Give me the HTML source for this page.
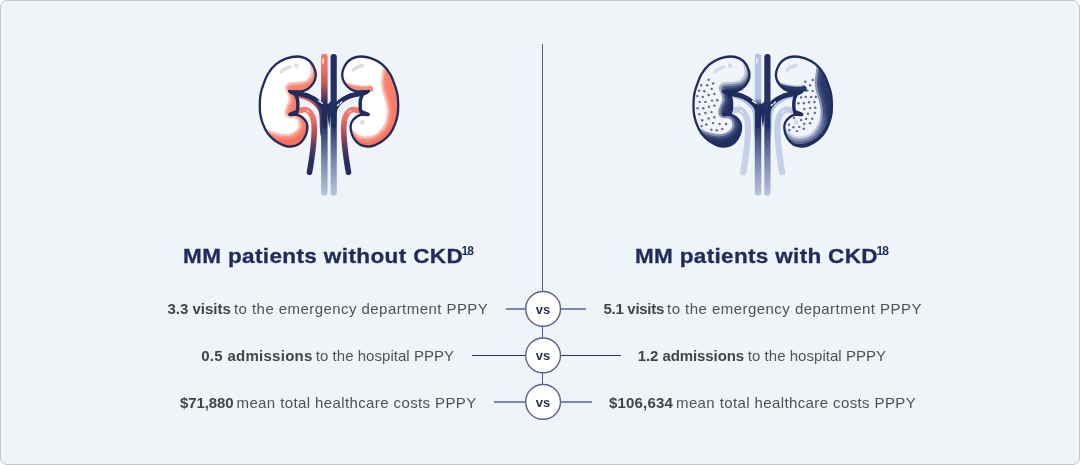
<!DOCTYPE html>
<html lang="en"><head><meta charset="utf-8"><title>MM patients with and without CKD</title>
<style>
html,body{margin:0;padding:0;background:#fff;}
body{width:1080px;height:465px;position:relative;overflow:hidden;font-family:"Liberation Sans",Arial,sans-serif;}
.card{position:absolute;left:0;top:0;width:1078px;height:463px;border:1px solid #c5c7cc;border-radius:7px;background:#eff4f9;}
.art{position:absolute;left:0;top:0;}
.vline{position:absolute;left:542px;top:44px;width:1px;height:360px;background:#505d86;}
.hl{position:absolute;height:1.6px;}
.vs{position:absolute;left:525px;width:36.2px;height:36.2px;
  color:#1f2b5b;font-weight:bold;font-size:13px;line-height:37.2px;text-align:center;letter-spacing:0.1px;}
.t{position:absolute;white-space:nowrap;font-size:15px;line-height:20px;margin-top:-9.5px;color:#515151;}
.t.b{font-weight:bold;color:#444444;}
.h{position:absolute;white-space:nowrap;font-weight:bold;font-size:20.5px;line-height:26px;color:#1f2b5b;top:243.2px;}
.h span{display:inline-block;transform:scaleX(1.1);transform-origin:0 50%;-webkit-text-stroke:0.3px #1f2b5b;}
.sp{position:absolute;top:244.4px;font-size:12px;line-height:14px;font-weight:bold;color:#1f2b5b;letter-spacing:-0.9px;}
</style></head>
<body>
<div class="card"></div>
<svg class="art" width="1080" height="465" viewBox="0 0 1080 465">
<g transform="translate(0,0)">
<defs>
<clipPath id="acl"><path d="M 289.50,91.00 C 290.42,91.07 293.02,91.35 295.00,91.40 C 296.98,91.45 299.28,91.70 301.40,91.30 C 303.52,90.90 305.77,90.27 307.70,89.00 C 309.63,87.73 311.68,85.63 313.00,83.70 C 314.32,81.77 315.22,79.50 315.60,77.40 C 315.98,75.30 315.92,73.38 315.30,71.10 C 314.68,68.82 313.52,65.82 311.90,63.70 C 310.28,61.58 308.05,59.60 305.60,58.40 C 303.15,57.20 300.37,56.50 297.20,56.50 C 294.03,56.50 290.12,57.12 286.60,58.40 C 283.08,59.68 279.25,61.57 276.10,64.20 C 272.95,66.83 270.07,70.07 267.70,74.20 C 265.33,78.33 263.13,85.30 261.90,89.00 C 260.67,92.70 260.65,93.73 260.30,96.40 C 259.95,99.07 259.80,102.02 259.80,105.00 C 259.80,107.98 259.78,111.17 260.30,114.30 C 260.82,117.43 261.67,120.63 262.90,123.80 C 264.13,126.97 265.68,130.48 267.70,133.30 C 269.72,136.12 272.37,138.68 275.00,140.70 C 277.63,142.72 280.87,144.43 283.50,145.40 C 286.13,146.37 288.35,146.67 290.80,146.50 C 293.25,146.33 296.00,145.72 298.20,144.40 C 300.40,143.08 302.50,140.98 304.00,138.60 C 305.50,136.22 306.75,132.73 307.20,130.10 C 307.65,127.47 307.50,124.90 306.70,122.80 C 305.90,120.70 303.98,118.82 302.40,117.50 C 300.82,116.18 299.30,115.40 297.20,114.90 C 295.10,114.40 291.03,114.57 289.80,114.50 C 290.67,114.35 293.75,114.27 295.00,113.60 C 296.25,112.93 296.83,112.10 297.30,110.50 C 297.77,108.90 297.85,106.00 297.80,104.00 C 297.75,102.00 297.47,100.08 297.00,98.50 C 296.53,96.92 296.25,95.75 295.00,94.50 C 293.75,93.25 290.42,91.58 289.50,91.00 Z"/></clipPath>
<clipPath id="acr"><path d="M 368.50,91.00 C 367.58,91.07 364.98,91.35 363.00,91.40 C 361.02,91.45 358.72,91.70 356.60,91.30 C 354.48,90.90 352.23,90.27 350.30,89.00 C 348.37,87.73 346.32,85.63 345.00,83.70 C 343.68,81.77 342.78,79.50 342.40,77.40 C 342.02,75.30 342.08,73.38 342.70,71.10 C 343.32,68.82 344.48,65.82 346.10,63.70 C 347.72,61.58 349.95,59.60 352.40,58.40 C 354.85,57.20 357.63,56.50 360.80,56.50 C 363.97,56.50 367.88,57.12 371.40,58.40 C 374.92,59.68 378.75,61.57 381.90,64.20 C 385.05,66.83 387.93,70.07 390.30,74.20 C 392.67,78.33 394.87,85.30 396.10,89.00 C 397.33,92.70 397.35,93.73 397.70,96.40 C 398.05,99.07 398.20,102.02 398.20,105.00 C 398.20,107.98 398.22,111.17 397.70,114.30 C 397.18,117.43 396.33,120.63 395.10,123.80 C 393.87,126.97 392.32,130.48 390.30,133.30 C 388.28,136.12 385.63,138.68 383.00,140.70 C 380.37,142.72 377.13,144.43 374.50,145.40 C 371.87,146.37 369.65,146.67 367.20,146.50 C 364.75,146.33 362.00,145.72 359.80,144.40 C 357.60,143.08 355.50,140.98 354.00,138.60 C 352.50,136.22 351.25,132.73 350.80,130.10 C 350.35,127.47 350.50,124.90 351.30,122.80 C 352.10,120.70 354.02,118.82 355.60,117.50 C 357.18,116.18 358.70,115.40 360.80,114.90 C 362.90,114.40 366.97,114.57 368.20,114.50 C 367.33,114.35 364.25,114.27 363.00,113.60 C 361.75,112.93 361.17,112.10 360.70,110.50 C 360.23,108.90 360.15,106.00 360.20,104.00 C 360.25,102.00 360.53,100.08 361.00,98.50 C 361.47,96.92 361.75,95.75 363.00,94.50 C 364.25,93.25 367.58,91.58 368.50,91.00 Z"/></clipPath>
<linearGradient id="aga" gradientUnits="userSpaceOnUse" x1="0" y1="54" x2="0" y2="196">
<stop offset="0" stop-color="#f47c6c"/><stop offset="0.1" stop-color="#ec7265"/><stop offset="0.2" stop-color="#c65a58"/><stop offset="0.29" stop-color="#6b3f5f"/><stop offset="0.35" stop-color="#222d5e"/><stop offset="0.55" stop-color="#344372"/><stop offset="0.75" stop-color="#7886ad"/><stop offset="1" stop-color="#b9c6df"/>
</linearGradient>
<linearGradient id="agv" gradientUnits="userSpaceOnUse" x1="0" y1="54" x2="0" y2="196">
<stop offset="0" stop-color="#202c5c"/><stop offset="0.45" stop-color="#263365"/><stop offset="0.55" stop-color="#344372"/><stop offset="0.75" stop-color="#7886ad"/><stop offset="1" stop-color="#b9c6df"/>
</linearGradient>
<linearGradient id="agu" gradientUnits="userSpaceOnUse" x1="0" y1="108" x2="0" y2="173">
<stop offset="0" stop-color="#f47c6c"/><stop offset="0.15" stop-color="#ec7265"/><stop offset="0.36" stop-color="#b25259"/><stop offset="0.6" stop-color="#5a3a60"/><stop offset="0.82" stop-color="#2a2f5e"/><stop offset="1" stop-color="#222c5c"/>
</linearGradient>
<linearGradient id="ags" gradientUnits="userSpaceOnUse" x1="0" y1="60" x2="0" y2="147">
<stop offset="0" stop-color="#f88674"/><stop offset="1" stop-color="#f4715e"/>
</linearGradient>

<linearGradient id="agal" gradientUnits="userSpaceOnUse" x1="296" y1="0" x2="322" y2="0">
<stop offset="0" stop-color="#f07868"/><stop offset="0.6" stop-color="#c65a58"/><stop offset="1" stop-color="#3a3060"/>
</linearGradient>
<linearGradient id="agar" gradientUnits="userSpaceOnUse" x1="362" y1="0" x2="336" y2="0">
<stop offset="0" stop-color="#f07868"/><stop offset="0.6" stop-color="#c65a58"/><stop offset="1" stop-color="#3a3060"/>
</linearGradient>
</defs>
<path d="M 299.50,110.60 C 300.52,110.43 303.77,109.20 305.60,109.60 C 307.43,110.00 309.20,111.35 310.50,113.00 C 311.80,114.65 312.77,117.00 313.40,119.50 C 314.03,122.00 314.23,124.58 314.30,128.00 C 314.37,131.42 314.08,136.00 313.80,140.00 C 313.52,144.00 313.08,148.00 312.60,152.00 C 312.12,156.00 311.42,160.62 310.90,164.00 C 310.38,167.38 309.73,170.92 309.50,172.30" fill="none" stroke="url(#agu)" stroke-width="5.6" stroke-linecap="round"/>
<path d="M 358.50,110.60 C 357.48,110.43 354.23,109.20 352.40,109.60 C 350.57,110.00 348.80,111.35 347.50,113.00 C 346.20,114.65 345.23,117.00 344.60,119.50 C 343.97,122.00 343.77,124.58 343.70,128.00 C 343.63,131.42 343.92,136.00 344.20,140.00 C 344.48,144.00 344.92,148.00 345.40,152.00 C 345.88,156.00 346.58,160.62 347.10,164.00 C 347.62,167.38 348.27,170.92 348.50,172.30" fill="none" stroke="url(#agu)" stroke-width="5.6" stroke-linecap="round"/>
<path d="M 307.2,110.6 L 309.4,112.4" stroke="#ffe3dd" stroke-width="1.1" stroke-linecap="round"/>
<path d="M 350.8,110.6 L 348.6,112.4" stroke="#ffe3dd" stroke-width="1.1" stroke-linecap="round"/>
<path d="M 294.00,95.20 C 295.00,95.37 297.67,95.60 300.00,96.20 C 302.33,96.80 305.23,97.37 308.00,98.80 C 310.77,100.23 314.50,102.77 316.60,104.80 C 318.70,106.83 319.77,108.80 320.60,111.00 C 321.43,113.20 321.40,115.33 321.60,118.00 C 321.80,120.67 321.63,124.17 321.80,127.00 C 321.97,129.83 322.15,132.50 322.60,135.00 C 323.05,137.50 324.18,140.83 324.50,142.00" fill="none" stroke="url(#agal)" stroke-width="4"/>
<path d="M 364.00,95.20 C 363.00,95.37 360.33,95.60 358.00,96.20 C 355.67,96.80 352.77,97.37 350.00,98.80 C 347.23,100.23 343.50,102.77 341.40,104.80 C 339.30,106.83 338.23,108.80 337.40,111.00 C 336.57,113.20 336.60,115.33 336.40,118.00 C 336.20,120.67 336.37,124.17 336.20,127.00 C 336.03,129.83 335.85,132.50 335.40,135.00 C 334.95,137.50 333.82,140.83 333.50,142.00" fill="none" stroke="url(#agar)" stroke-width="4" opacity="0"/>
<rect x="321.1" y="53.8" width="6.5" height="142" rx="3.25" fill="url(#aga)"/>
<rect x="330.6" y="54.1" width="6.2" height="141.7" rx="3.1" fill="url(#agv)"/>
<path d="M 323.1,58.8 V 63" stroke="#ffe3dd" stroke-width="1.7" stroke-linecap="round"/>
<path d="M 289.80,92.00 C 290.85,92.22 292.95,92.60 296.10,93.30 C 299.25,94.00 304.95,94.70 308.70,96.20 C 312.45,97.70 316.15,100.17 318.60,102.30 C 321.05,104.43 322.40,106.72 323.40,109.00 C 324.40,111.28 324.40,113.17 324.60,116.00 C 324.80,118.83 324.60,124.33 324.60,126.00" fill="none" stroke="#202c5c" stroke-width="5" stroke-linecap="round"/>
<path d="M 368.20,92.00 C 367.15,92.22 365.05,92.60 361.90,93.30 C 358.75,94.00 353.05,94.70 349.30,96.20 C 345.55,97.70 341.78,100.17 339.40,102.30 C 337.02,104.43 335.93,106.72 335.00,109.00 C 334.07,111.28 334.00,113.17 333.80,116.00 C 333.60,118.83 333.80,124.33 333.80,126.00" fill="none" stroke="#202c5c" stroke-width="5" stroke-linecap="round"/>
<path d="M 325,104 C 327.5,104.6 329.8,103.4 330.9,100.5 L 331.4,112 L 329.3,128 L 327,112 Z" fill="#202c5c"/>
<path d="M 318.8,100.9 L 322.3,103.3" stroke="#fff" stroke-width="1.3" stroke-linecap="round"/>
<path d="M 341.8,102 L 336.9,105.8" stroke="#fff" stroke-width="1.3" stroke-linecap="round" stroke-dasharray="2 1.6"/>
<path d="M 289.50,91.00 C 290.42,91.07 293.02,91.35 295.00,91.40 C 296.98,91.45 299.28,91.70 301.40,91.30 C 303.52,90.90 305.77,90.27 307.70,89.00 C 309.63,87.73 311.68,85.63 313.00,83.70 C 314.32,81.77 315.22,79.50 315.60,77.40 C 315.98,75.30 315.92,73.38 315.30,71.10 C 314.68,68.82 313.52,65.82 311.90,63.70 C 310.28,61.58 308.05,59.60 305.60,58.40 C 303.15,57.20 300.37,56.50 297.20,56.50 C 294.03,56.50 290.12,57.12 286.60,58.40 C 283.08,59.68 279.25,61.57 276.10,64.20 C 272.95,66.83 270.07,70.07 267.70,74.20 C 265.33,78.33 263.13,85.30 261.90,89.00 C 260.67,92.70 260.65,93.73 260.30,96.40 C 259.95,99.07 259.80,102.02 259.80,105.00 C 259.80,107.98 259.78,111.17 260.30,114.30 C 260.82,117.43 261.67,120.63 262.90,123.80 C 264.13,126.97 265.68,130.48 267.70,133.30 C 269.72,136.12 272.37,138.68 275.00,140.70 C 277.63,142.72 280.87,144.43 283.50,145.40 C 286.13,146.37 288.35,146.67 290.80,146.50 C 293.25,146.33 296.00,145.72 298.20,144.40 C 300.40,143.08 302.50,140.98 304.00,138.60 C 305.50,136.22 306.75,132.73 307.20,130.10 C 307.65,127.47 307.50,124.90 306.70,122.80 C 305.90,120.70 303.98,118.82 302.40,117.50 C 300.82,116.18 299.30,115.40 297.20,114.90 C 295.10,114.40 291.03,114.57 289.80,114.50 C 290.67,114.35 293.75,114.27 295.00,113.60 C 296.25,112.93 296.83,112.10 297.30,110.50 C 297.77,108.90 297.85,106.00 297.80,104.00 C 297.75,102.00 297.47,100.08 297.00,98.50 C 296.53,96.92 296.25,95.75 295.00,94.50 C 293.75,93.25 290.42,91.58 289.50,91.00 Z" fill="url(#ags)"/>
<g clip-path="url(#acl)">
<path d="M 309.30,63.00 C 309.55,64.17 310.68,67.92 310.80,70.00 C 310.92,72.08 310.80,73.83 310.00,75.50 C 309.20,77.17 308.00,78.95 306.00,80.00 C 304.00,81.05 300.67,81.42 298.00,81.80 C 295.33,82.18 292.00,81.77 290.00,82.30 C 288.00,82.83 286.83,83.97 286.00,85.00 C 285.17,86.03 284.92,87.25 285.00,88.50 C 285.08,89.75 285.95,91.17 286.50,92.50 C 287.05,93.83 287.97,95.08 288.30,96.50 C 288.63,97.92 288.88,99.33 288.50,101.00 C 288.12,102.67 286.65,104.67 286.00,106.50 C 285.35,108.33 284.67,110.42 284.60,112.00 C 284.53,113.58 284.73,114.97 285.60,116.00 C 286.47,117.03 288.23,117.80 289.80,118.20 C 291.37,118.60 293.63,117.85 295.00,118.40 C 296.37,118.95 297.45,120.07 298.00,121.50 C 298.55,122.93 298.80,125.42 298.30,127.00 C 297.80,128.58 296.38,129.92 295.00,131.00 C 293.62,132.08 292.00,133.00 290.00,133.50 C 288.00,134.00 285.50,134.20 283.00,134.00 C 280.50,133.80 277.83,133.20 275.00,132.30 C 272.17,131.40 268.83,129.98 266.00,128.60 C 263.17,127.22 259.33,124.77 258.00,124.00 L 250,124 L 250,45 L 309.3,45 Z" fill="#ffffff" stroke="#f7826f" stroke-width="12"/>
<path d="M 309.30,63.00 C 309.55,64.17 310.68,67.92 310.80,70.00 C 310.92,72.08 310.80,73.83 310.00,75.50 C 309.20,77.17 308.00,78.95 306.00,80.00 C 304.00,81.05 300.67,81.42 298.00,81.80 C 295.33,82.18 292.00,81.77 290.00,82.30 C 288.00,82.83 286.83,83.97 286.00,85.00 C 285.17,86.03 284.92,87.25 285.00,88.50 C 285.08,89.75 285.95,91.17 286.50,92.50 C 287.05,93.83 287.97,95.08 288.30,96.50 C 288.63,97.92 288.88,99.33 288.50,101.00 C 288.12,102.67 286.65,104.67 286.00,106.50 C 285.35,108.33 284.67,110.42 284.60,112.00 C 284.53,113.58 284.73,114.97 285.60,116.00 C 286.47,117.03 288.23,117.80 289.80,118.20 C 291.37,118.60 293.63,117.85 295.00,118.40 C 296.37,118.95 297.45,120.07 298.00,121.50 C 298.55,122.93 298.80,125.42 298.30,127.00 C 297.80,128.58 296.38,129.92 295.00,131.00 C 293.62,132.08 292.00,133.00 290.00,133.50 C 288.00,134.00 285.50,134.20 283.00,134.00 C 280.50,133.80 277.83,133.20 275.00,132.30 C 272.17,131.40 268.83,129.98 266.00,128.60 C 263.17,127.22 259.33,124.77 258.00,124.00 L 250,124 L 250,45 L 309.3,45 Z" fill="#ffffff" stroke="#f99383" stroke-width="8"/>
<path d="M 309.30,63.00 C 309.55,64.17 310.68,67.92 310.80,70.00 C 310.92,72.08 310.80,73.83 310.00,75.50 C 309.20,77.17 308.00,78.95 306.00,80.00 C 304.00,81.05 300.67,81.42 298.00,81.80 C 295.33,82.18 292.00,81.77 290.00,82.30 C 288.00,82.83 286.83,83.97 286.00,85.00 C 285.17,86.03 284.92,87.25 285.00,88.50 C 285.08,89.75 285.95,91.17 286.50,92.50 C 287.05,93.83 287.97,95.08 288.30,96.50 C 288.63,97.92 288.88,99.33 288.50,101.00 C 288.12,102.67 286.65,104.67 286.00,106.50 C 285.35,108.33 284.67,110.42 284.60,112.00 C 284.53,113.58 284.73,114.97 285.60,116.00 C 286.47,117.03 288.23,117.80 289.80,118.20 C 291.37,118.60 293.63,117.85 295.00,118.40 C 296.37,118.95 297.45,120.07 298.00,121.50 C 298.55,122.93 298.80,125.42 298.30,127.00 C 297.80,128.58 296.38,129.92 295.00,131.00 C 293.62,132.08 292.00,133.00 290.00,133.50 C 288.00,134.00 285.50,134.20 283.00,134.00 C 280.50,133.80 277.83,133.20 275.00,132.30 C 272.17,131.40 268.83,129.98 266.00,128.60 C 263.17,127.22 259.33,124.77 258.00,124.00 L 250,124 L 250,45 L 309.3,45 Z" fill="#ffffff" stroke="#fcc0b4" stroke-width="4.4"/>
<path d="M 309.30,63.00 C 309.55,64.17 310.68,67.92 310.80,70.00 C 310.92,72.08 310.80,73.83 310.00,75.50 C 309.20,77.17 308.00,78.95 306.00,80.00 C 304.00,81.05 300.67,81.42 298.00,81.80 C 295.33,82.18 292.00,81.77 290.00,82.30 C 288.00,82.83 286.83,83.97 286.00,85.00 C 285.17,86.03 284.92,87.25 285.00,88.50 C 285.08,89.75 285.95,91.17 286.50,92.50 C 287.05,93.83 287.97,95.08 288.30,96.50 C 288.63,97.92 288.88,99.33 288.50,101.00 C 288.12,102.67 286.65,104.67 286.00,106.50 C 285.35,108.33 284.67,110.42 284.60,112.00 C 284.53,113.58 284.73,114.97 285.60,116.00 C 286.47,117.03 288.23,117.80 289.80,118.20 C 291.37,118.60 293.63,117.85 295.00,118.40 C 296.37,118.95 297.45,120.07 298.00,121.50 C 298.55,122.93 298.80,125.42 298.30,127.00 C 297.80,128.58 296.38,129.92 295.00,131.00 C 293.62,132.08 292.00,133.00 290.00,133.50 C 288.00,134.00 285.50,134.20 283.00,134.00 C 280.50,133.80 277.83,133.20 275.00,132.30 C 272.17,131.40 268.83,129.98 266.00,128.60 C 263.17,127.22 259.33,124.77 258.00,124.00 L 250,124 L 250,45 L 309.3,45 Z" fill="#ffffff"/>

</g>
<path d="M 289.50,91.00 C 290.42,91.07 293.02,91.35 295.00,91.40 C 296.98,91.45 299.28,91.70 301.40,91.30 C 303.52,90.90 305.77,90.27 307.70,89.00 C 309.63,87.73 311.68,85.63 313.00,83.70 C 314.32,81.77 315.22,79.50 315.60,77.40 C 315.98,75.30 315.92,73.38 315.30,71.10 C 314.68,68.82 313.52,65.82 311.90,63.70 C 310.28,61.58 308.05,59.60 305.60,58.40 C 303.15,57.20 300.37,56.50 297.20,56.50 C 294.03,56.50 290.12,57.12 286.60,58.40 C 283.08,59.68 279.25,61.57 276.10,64.20 C 272.95,66.83 270.07,70.07 267.70,74.20 C 265.33,78.33 263.13,85.30 261.90,89.00 C 260.67,92.70 260.65,93.73 260.30,96.40 C 259.95,99.07 259.80,102.02 259.80,105.00 C 259.80,107.98 259.78,111.17 260.30,114.30 C 260.82,117.43 261.67,120.63 262.90,123.80 C 264.13,126.97 265.68,130.48 267.70,133.30 C 269.72,136.12 272.37,138.68 275.00,140.70 C 277.63,142.72 280.87,144.43 283.50,145.40 C 286.13,146.37 288.35,146.67 290.80,146.50 C 293.25,146.33 296.00,145.72 298.20,144.40 C 300.40,143.08 302.50,140.98 304.00,138.60 C 305.50,136.22 306.75,132.73 307.20,130.10 C 307.65,127.47 307.50,124.90 306.70,122.80 C 305.90,120.70 303.98,118.82 302.40,117.50 C 300.82,116.18 299.30,115.40 297.20,114.90 C 295.10,114.40 291.03,114.57 289.80,114.50 C 290.67,114.35 293.75,114.27 295.00,113.60 C 296.25,112.93 296.83,112.10 297.30,110.50 C 297.77,108.90 297.85,106.00 297.80,104.00 C 297.75,102.00 297.47,100.08 297.00,98.50 C 296.53,96.92 296.25,95.75 295.00,94.50 C 293.75,93.25 290.42,91.58 289.50,91.00 Z" fill="none" stroke="#202c5c" stroke-width="2.3" stroke-linejoin="round"/>
<path d="M 368.50,91.00 C 367.58,91.07 364.98,91.35 363.00,91.40 C 361.02,91.45 358.72,91.70 356.60,91.30 C 354.48,90.90 352.23,90.27 350.30,89.00 C 348.37,87.73 346.32,85.63 345.00,83.70 C 343.68,81.77 342.78,79.50 342.40,77.40 C 342.02,75.30 342.08,73.38 342.70,71.10 C 343.32,68.82 344.48,65.82 346.10,63.70 C 347.72,61.58 349.95,59.60 352.40,58.40 C 354.85,57.20 357.63,56.50 360.80,56.50 C 363.97,56.50 367.88,57.12 371.40,58.40 C 374.92,59.68 378.75,61.57 381.90,64.20 C 385.05,66.83 387.93,70.07 390.30,74.20 C 392.67,78.33 394.87,85.30 396.10,89.00 C 397.33,92.70 397.35,93.73 397.70,96.40 C 398.05,99.07 398.20,102.02 398.20,105.00 C 398.20,107.98 398.22,111.17 397.70,114.30 C 397.18,117.43 396.33,120.63 395.10,123.80 C 393.87,126.97 392.32,130.48 390.30,133.30 C 388.28,136.12 385.63,138.68 383.00,140.70 C 380.37,142.72 377.13,144.43 374.50,145.40 C 371.87,146.37 369.65,146.67 367.20,146.50 C 364.75,146.33 362.00,145.72 359.80,144.40 C 357.60,143.08 355.50,140.98 354.00,138.60 C 352.50,136.22 351.25,132.73 350.80,130.10 C 350.35,127.47 350.50,124.90 351.30,122.80 C 352.10,120.70 354.02,118.82 355.60,117.50 C 357.18,116.18 358.70,115.40 360.80,114.90 C 362.90,114.40 366.97,114.57 368.20,114.50 C 367.33,114.35 364.25,114.27 363.00,113.60 C 361.75,112.93 361.17,112.10 360.70,110.50 C 360.23,108.90 360.15,106.00 360.20,104.00 C 360.25,102.00 360.53,100.08 361.00,98.50 C 361.47,96.92 361.75,95.75 363.00,94.50 C 364.25,93.25 367.58,91.58 368.50,91.00 Z" fill="url(#ags)"/>
<g clip-path="url(#acr)">
<path d="M 383.20,64.00 C 383.08,64.92 382.78,67.43 382.50,69.50 C 382.22,71.57 381.75,74.03 381.50,76.40 C 381.25,78.77 380.83,81.07 381.00,83.70 C 381.17,86.33 381.88,89.65 382.50,92.20 C 383.12,94.75 384.03,96.53 384.70,99.00 C 385.37,101.47 386.15,104.50 386.50,107.00 C 386.85,109.50 387.10,111.25 386.80,114.00 C 386.50,116.75 386.12,120.52 384.70,123.50 C 383.28,126.48 380.77,129.80 378.30,131.90 C 375.83,134.00 372.88,135.48 369.90,136.10 C 366.92,136.72 363.22,136.65 360.40,135.60 C 357.58,134.55 355.07,131.73 353.00,129.80 C 350.93,127.87 348.83,124.97 348.00,124.00 L 338,124 L 338,45 L 383.2,45 Z" fill="#ffffff" stroke="#f7826f" stroke-width="12"/>
<path d="M 383.20,64.00 C 383.08,64.92 382.78,67.43 382.50,69.50 C 382.22,71.57 381.75,74.03 381.50,76.40 C 381.25,78.77 380.83,81.07 381.00,83.70 C 381.17,86.33 381.88,89.65 382.50,92.20 C 383.12,94.75 384.03,96.53 384.70,99.00 C 385.37,101.47 386.15,104.50 386.50,107.00 C 386.85,109.50 387.10,111.25 386.80,114.00 C 386.50,116.75 386.12,120.52 384.70,123.50 C 383.28,126.48 380.77,129.80 378.30,131.90 C 375.83,134.00 372.88,135.48 369.90,136.10 C 366.92,136.72 363.22,136.65 360.40,135.60 C 357.58,134.55 355.07,131.73 353.00,129.80 C 350.93,127.87 348.83,124.97 348.00,124.00 L 338,124 L 338,45 L 383.2,45 Z" fill="#ffffff" stroke="#f99383" stroke-width="8"/>
<path d="M 383.20,64.00 C 383.08,64.92 382.78,67.43 382.50,69.50 C 382.22,71.57 381.75,74.03 381.50,76.40 C 381.25,78.77 380.83,81.07 381.00,83.70 C 381.17,86.33 381.88,89.65 382.50,92.20 C 383.12,94.75 384.03,96.53 384.70,99.00 C 385.37,101.47 386.15,104.50 386.50,107.00 C 386.85,109.50 387.10,111.25 386.80,114.00 C 386.50,116.75 386.12,120.52 384.70,123.50 C 383.28,126.48 380.77,129.80 378.30,131.90 C 375.83,134.00 372.88,135.48 369.90,136.10 C 366.92,136.72 363.22,136.65 360.40,135.60 C 357.58,134.55 355.07,131.73 353.00,129.80 C 350.93,127.87 348.83,124.97 348.00,124.00 L 338,124 L 338,45 L 383.2,45 Z" fill="#ffffff" stroke="#fcc0b4" stroke-width="4.4"/>
<path d="M 383.20,64.00 C 383.08,64.92 382.78,67.43 382.50,69.50 C 382.22,71.57 381.75,74.03 381.50,76.40 C 381.25,78.77 380.83,81.07 381.00,83.70 C 381.17,86.33 381.88,89.65 382.50,92.20 C 383.12,94.75 384.03,96.53 384.70,99.00 C 385.37,101.47 386.15,104.50 386.50,107.00 C 386.85,109.50 387.10,111.25 386.80,114.00 C 386.50,116.75 386.12,120.52 384.70,123.50 C 383.28,126.48 380.77,129.80 378.30,131.90 C 375.83,134.00 372.88,135.48 369.90,136.10 C 366.92,136.72 363.22,136.65 360.40,135.60 C 357.58,134.55 355.07,131.73 353.00,129.80 C 350.93,127.87 348.83,124.97 348.00,124.00 L 338,124 L 338,45 L 383.2,45 Z" fill="#ffffff"/>
<path d="M 341,76 L 346.3,83 C 353.5,86 364,86.8 369.5,85.6 C 371.5,85.4 372.5,86.5 373,88 L 373,91.6 L 341,91.6 Z" fill="#f58a78"/>
<path d="M 346.3,83 C 353.5,86 364,86.8 369.5,85.6" fill="none" stroke="#fcc3b8" stroke-width="1.4"/>

</g>
<path d="M 368.50,91.00 C 367.58,91.07 364.98,91.35 363.00,91.40 C 361.02,91.45 358.72,91.70 356.60,91.30 C 354.48,90.90 352.23,90.27 350.30,89.00 C 348.37,87.73 346.32,85.63 345.00,83.70 C 343.68,81.77 342.78,79.50 342.40,77.40 C 342.02,75.30 342.08,73.38 342.70,71.10 C 343.32,68.82 344.48,65.82 346.10,63.70 C 347.72,61.58 349.95,59.60 352.40,58.40 C 354.85,57.20 357.63,56.50 360.80,56.50 C 363.97,56.50 367.88,57.12 371.40,58.40 C 374.92,59.68 378.75,61.57 381.90,64.20 C 385.05,66.83 387.93,70.07 390.30,74.20 C 392.67,78.33 394.87,85.30 396.10,89.00 C 397.33,92.70 397.35,93.73 397.70,96.40 C 398.05,99.07 398.20,102.02 398.20,105.00 C 398.20,107.98 398.22,111.17 397.70,114.30 C 397.18,117.43 396.33,120.63 395.10,123.80 C 393.87,126.97 392.32,130.48 390.30,133.30 C 388.28,136.12 385.63,138.68 383.00,140.70 C 380.37,142.72 377.13,144.43 374.50,145.40 C 371.87,146.37 369.65,146.67 367.20,146.50 C 364.75,146.33 362.00,145.72 359.80,144.40 C 357.60,143.08 355.50,140.98 354.00,138.60 C 352.50,136.22 351.25,132.73 350.80,130.10 C 350.35,127.47 350.50,124.90 351.30,122.80 C 352.10,120.70 354.02,118.82 355.60,117.50 C 357.18,116.18 358.70,115.40 360.80,114.90 C 362.90,114.40 366.97,114.57 368.20,114.50 C 367.33,114.35 364.25,114.27 363.00,113.60 C 361.75,112.93 361.17,112.10 360.70,110.50 C 360.23,108.90 360.15,106.00 360.20,104.00 C 360.25,102.00 360.53,100.08 361.00,98.50 C 361.47,96.92 361.75,95.75 363.00,94.50 C 364.25,93.25 367.58,91.58 368.50,91.00 Z" fill="none" stroke="#202c5c" stroke-width="2.3" stroke-linejoin="round"/>
<path d="M 290.50,114.60 C 291.32,114.47 294.25,114.48 295.40,113.80 C 296.55,113.12 296.98,112.13 297.40,110.50 C 297.82,108.87 297.93,106.00 297.90,104.00 C 297.87,102.00 297.58,100.00 297.20,98.50 C 296.82,97.00 295.87,95.58 295.60,95.00" fill="none" stroke="#202c5c" stroke-width="3.4" stroke-linecap="round"/>
<path d="M 367.50,114.60 C 366.68,114.47 363.75,114.48 362.60,113.80 C 361.45,113.12 361.02,112.13 360.60,110.50 C 360.18,108.87 360.07,106.00 360.10,104.00 C 360.13,102.00 360.42,100.00 360.80,98.50 C 361.18,97.00 362.13,95.58 362.40,95.00" fill="none" stroke="#202c5c" stroke-width="3.4" stroke-linecap="round"/>
<path d="M 288.9,113.4 C 291.5,111.8 294.5,111.6 297.4,110 L 298,115.4 C 295,115.2 292,115.6 288.9,115.6 Z" fill="#202c5c" stroke="#202c5c" stroke-width="1" stroke-linejoin="round"/>
<path d="M 369.10,113.4 C 366.50,111.8 363.50,111.6 360.60,110 L 360.00,115.4 C 363.00,115.2 366.00,115.6 369.10,115.6 Z" fill="#202c5c" stroke="#202c5c" stroke-width="1" stroke-linejoin="round"/>
<path d="M 288.7,90.3 C 291,91 294,91.2 297.5,91 L 299,95.5 C 295,95.6 291.5,94.4 288.7,92.2 Z" fill="#202c5c" stroke="#202c5c" stroke-width="1" stroke-linejoin="round"/>
<path d="M 369.30,90.3 C 367.00,91 364.00,91.2 360.50,91 L 359.00,95.5 C 363.00,95.6 366.50,94.4 369.30,92.2 Z" fill="#202c5c" stroke="#202c5c" stroke-width="1" stroke-linejoin="round"/>
<path d="M 281.2,72 C 283.6,69.4 286.6,67.6 290.2,66.9" fill="none" stroke="#dedede" stroke-width="3.3" stroke-linecap="round"/>
<circle cx="296.3" cy="65.6" r="2.2" fill="#dedede"/>
<path d="M 353.4,69.9 C 355.6,67.6 358.6,66 362.2,65.4" fill="none" stroke="#dedede" stroke-width="3.5" stroke-linecap="round"/>
<circle cx="362.3" cy="122.4" r="2.4" fill="#dedede"/>
</g>
<g transform="translate(433.7,0)">
<defs>
<clipPath id="bcl"><path d="M 289.50,91.00 C 290.42,91.07 293.02,91.35 295.00,91.40 C 296.98,91.45 299.28,91.70 301.40,91.30 C 303.52,90.90 305.77,90.27 307.70,89.00 C 309.63,87.73 311.68,85.63 313.00,83.70 C 314.32,81.77 315.22,79.50 315.60,77.40 C 315.98,75.30 315.92,73.38 315.30,71.10 C 314.68,68.82 313.52,65.82 311.90,63.70 C 310.28,61.58 308.05,59.60 305.60,58.40 C 303.15,57.20 300.37,56.50 297.20,56.50 C 294.03,56.50 290.12,57.12 286.60,58.40 C 283.08,59.68 279.25,61.57 276.10,64.20 C 272.95,66.83 270.07,70.07 267.70,74.20 C 265.33,78.33 263.13,85.30 261.90,89.00 C 260.67,92.70 260.65,93.73 260.30,96.40 C 259.95,99.07 259.80,102.02 259.80,105.00 C 259.80,107.98 259.78,111.17 260.30,114.30 C 260.82,117.43 261.67,120.63 262.90,123.80 C 264.13,126.97 265.68,130.48 267.70,133.30 C 269.72,136.12 272.37,138.68 275.00,140.70 C 277.63,142.72 280.87,144.43 283.50,145.40 C 286.13,146.37 288.35,146.67 290.80,146.50 C 293.25,146.33 296.00,145.72 298.20,144.40 C 300.40,143.08 302.50,140.98 304.00,138.60 C 305.50,136.22 306.75,132.73 307.20,130.10 C 307.65,127.47 307.50,124.90 306.70,122.80 C 305.90,120.70 303.98,118.82 302.40,117.50 C 300.82,116.18 299.30,115.40 297.20,114.90 C 295.10,114.40 291.03,114.57 289.80,114.50 C 290.67,114.35 293.75,114.27 295.00,113.60 C 296.25,112.93 296.83,112.10 297.30,110.50 C 297.77,108.90 297.85,106.00 297.80,104.00 C 297.75,102.00 297.47,100.08 297.00,98.50 C 296.53,96.92 296.25,95.75 295.00,94.50 C 293.75,93.25 290.42,91.58 289.50,91.00 Z"/></clipPath>
<clipPath id="bcr"><path d="M 368.50,91.00 C 367.58,91.07 364.98,91.35 363.00,91.40 C 361.02,91.45 358.72,91.70 356.60,91.30 C 354.48,90.90 352.23,90.27 350.30,89.00 C 348.37,87.73 346.32,85.63 345.00,83.70 C 343.68,81.77 342.78,79.50 342.40,77.40 C 342.02,75.30 342.08,73.38 342.70,71.10 C 343.32,68.82 344.48,65.82 346.10,63.70 C 347.72,61.58 349.95,59.60 352.40,58.40 C 354.85,57.20 357.63,56.50 360.80,56.50 C 363.97,56.50 367.88,57.12 371.40,58.40 C 374.92,59.68 378.75,61.57 381.90,64.20 C 385.05,66.83 387.93,70.07 390.30,74.20 C 392.67,78.33 394.87,85.30 396.10,89.00 C 397.33,92.70 397.35,93.73 397.70,96.40 C 398.05,99.07 398.20,102.02 398.20,105.00 C 398.20,107.98 398.22,111.17 397.70,114.30 C 397.18,117.43 396.33,120.63 395.10,123.80 C 393.87,126.97 392.32,130.48 390.30,133.30 C 388.28,136.12 385.63,138.68 383.00,140.70 C 380.37,142.72 377.13,144.43 374.50,145.40 C 371.87,146.37 369.65,146.67 367.20,146.50 C 364.75,146.33 362.00,145.72 359.80,144.40 C 357.60,143.08 355.50,140.98 354.00,138.60 C 352.50,136.22 351.25,132.73 350.80,130.10 C 350.35,127.47 350.50,124.90 351.30,122.80 C 352.10,120.70 354.02,118.82 355.60,117.50 C 357.18,116.18 358.70,115.40 360.80,114.90 C 362.90,114.40 366.97,114.57 368.20,114.50 C 367.33,114.35 364.25,114.27 363.00,113.60 C 361.75,112.93 361.17,112.10 360.70,110.50 C 360.23,108.90 360.15,106.00 360.20,104.00 C 360.25,102.00 360.53,100.08 361.00,98.50 C 361.47,96.92 361.75,95.75 363.00,94.50 C 364.25,93.25 367.58,91.58 368.50,91.00 Z"/></clipPath>
<linearGradient id="bga" gradientUnits="userSpaceOnUse" x1="0" y1="54" x2="0" y2="196">
<stop offset="0" stop-color="#b3c2df"/><stop offset="0.31" stop-color="#b3c2df"/><stop offset="0.37" stop-color="#222d5e"/><stop offset="0.55" stop-color="#344372"/><stop offset="0.75" stop-color="#7886ad"/><stop offset="1" stop-color="#b9c6df"/>
</linearGradient>
<linearGradient id="bgv" gradientUnits="userSpaceOnUse" x1="0" y1="54" x2="0" y2="196">
<stop offset="0" stop-color="#202c5c"/><stop offset="0.45" stop-color="#263365"/><stop offset="0.55" stop-color="#344372"/><stop offset="0.75" stop-color="#7886ad"/><stop offset="1" stop-color="#b9c6df"/>
</linearGradient>
<linearGradient id="bgu" gradientUnits="userSpaceOnUse" x1="0" y1="108" x2="0" y2="173">
<stop offset="0" stop-color="#c2cee6"/><stop offset="1" stop-color="#c6d2e8"/>
</linearGradient>
<linearGradient id="bgs" gradientUnits="userSpaceOnUse" x1="0" y1="60" x2="0" y2="147">
<stop offset="0" stop-color="#2c396b"/><stop offset="1" stop-color="#222f62"/>
</linearGradient>
<linearGradient id="bl3" gradientUnits="userSpaceOnUse" x1="0" y1="82" x2="0" y2="97"><stop offset="0" stop-color="#56628d"/><stop offset="1" stop-color="#2f3c6f"/></linearGradient>
<linearGradient id="bl2" gradientUnits="userSpaceOnUse" x1="0" y1="82" x2="0" y2="97"><stop offset="0" stop-color="#8c97b8"/><stop offset="1" stop-color="#46527f"/></linearGradient>
<linearGradient id="bl1" gradientUnits="userSpaceOnUse" x1="0" y1="82" x2="0" y2="97"><stop offset="0" stop-color="#bfc7db"/><stop offset="1" stop-color="#8590b3"/></linearGradient>
<linearGradient id="br3" gradientUnits="userSpaceOnUse" x1="0" y1="112" x2="0" y2="134"><stop offset="0" stop-color="#323f72"/><stop offset="1" stop-color="#5e6a94"/></linearGradient>
<linearGradient id="br2" gradientUnits="userSpaceOnUse" x1="0" y1="112" x2="0" y2="134"><stop offset="0" stop-color="#45517f"/><stop offset="1" stop-color="#8d98b8"/></linearGradient>
<linearGradient id="br1" gradientUnits="userSpaceOnUse" x1="0" y1="112" x2="0" y2="134"><stop offset="0" stop-color="#8c97b8"/><stop offset="1" stop-color="#c9d0e2"/></linearGradient>
<linearGradient id="bgal" gradientUnits="userSpaceOnUse" x1="296" y1="0" x2="322" y2="0">
<stop offset="0" stop-color="#b4c3e0"/><stop offset="1" stop-color="#b4c3e0"/>
</linearGradient>
<linearGradient id="bgar" gradientUnits="userSpaceOnUse" x1="362" y1="0" x2="336" y2="0">
<stop offset="0" stop-color="#b4c3e0"/><stop offset="1" stop-color="#b4c3e0"/>
</linearGradient>
</defs>
<path d="M 299.50,110.60 C 300.52,110.43 303.77,109.20 305.60,109.60 C 307.43,110.00 309.20,111.35 310.50,113.00 C 311.80,114.65 312.77,117.00 313.40,119.50 C 314.03,122.00 314.23,124.58 314.30,128.00 C 314.37,131.42 314.08,136.00 313.80,140.00 C 313.52,144.00 313.08,148.00 312.60,152.00 C 312.12,156.00 311.42,160.62 310.90,164.00 C 310.38,167.38 309.73,170.92 309.50,172.30" fill="none" stroke="url(#bgu)" stroke-width="6.2" stroke-linecap="round"/>
<path d="M 358.50,110.60 C 357.48,110.43 354.23,109.20 352.40,109.60 C 350.57,110.00 348.80,111.35 347.50,113.00 C 346.20,114.65 345.23,117.00 344.60,119.50 C 343.97,122.00 343.77,124.58 343.70,128.00 C 343.63,131.42 343.92,136.00 344.20,140.00 C 344.48,144.00 344.92,148.00 345.40,152.00 C 345.88,156.00 346.58,160.62 347.10,164.00 C 347.62,167.38 348.27,170.92 348.50,172.30" fill="none" stroke="url(#bgu)" stroke-width="6.2" stroke-linecap="round"/>
<path d="M 307.2,110.6 L 309.4,112.4" stroke="#eef3fb" stroke-width="1.1" stroke-linecap="round"/>
<path d="M 350.8,110.6 L 348.6,112.4" stroke="#eef3fb" stroke-width="1.1" stroke-linecap="round"/>
<path d="M 294.00,95.20 C 295.00,95.37 297.67,95.60 300.00,96.20 C 302.33,96.80 305.23,97.37 308.00,98.80 C 310.77,100.23 314.50,102.77 316.60,104.80 C 318.70,106.83 319.77,108.80 320.60,111.00 C 321.43,113.20 321.40,115.33 321.60,118.00 C 321.80,120.67 321.63,124.17 321.80,127.00 C 321.97,129.83 322.15,132.50 322.60,135.00 C 323.05,137.50 324.18,140.83 324.50,142.00" fill="none" stroke="url(#bgal)" stroke-width="4"/>
<path d="M 364.00,95.20 C 363.00,95.37 360.33,95.60 358.00,96.20 C 355.67,96.80 352.77,97.37 350.00,98.80 C 347.23,100.23 343.50,102.77 341.40,104.80 C 339.30,106.83 338.23,108.80 337.40,111.00 C 336.57,113.20 336.60,115.33 336.40,118.00 C 336.20,120.67 336.37,124.17 336.20,127.00 C 336.03,129.83 335.85,132.50 335.40,135.00 C 334.95,137.50 333.82,140.83 333.50,142.00" fill="none" stroke="url(#bgar)" stroke-width="4" opacity="1"/>
<rect x="321.1" y="53.8" width="6.5" height="142" rx="3.25" fill="url(#bga)"/>
<rect x="330.6" y="54.1" width="6.2" height="141.7" rx="3.1" fill="url(#bgv)"/>
<path d="M 323.1,58.8 V 63" stroke="#eef3fb" stroke-width="1.7" stroke-linecap="round"/>
<path d="M 289.80,92.00 C 290.85,92.22 292.95,92.60 296.10,93.30 C 299.25,94.00 304.95,94.70 308.70,96.20 C 312.45,97.70 316.15,100.17 318.60,102.30 C 321.05,104.43 322.40,106.72 323.40,109.00 C 324.40,111.28 324.40,113.17 324.60,116.00 C 324.80,118.83 324.60,124.33 324.60,126.00" fill="none" stroke="#1f2c5e" stroke-width="5" stroke-linecap="round"/>
<path d="M 368.20,92.00 C 367.15,92.22 365.05,92.60 361.90,93.30 C 358.75,94.00 353.05,94.70 349.30,96.20 C 345.55,97.70 341.78,100.17 339.40,102.30 C 337.02,104.43 335.93,106.72 335.00,109.00 C 334.07,111.28 334.00,113.17 333.80,116.00 C 333.60,118.83 333.80,124.33 333.80,126.00" fill="none" stroke="#1f2c5e" stroke-width="5" stroke-linecap="round"/>
<path d="M 325,104 C 327.5,104.6 329.8,103.4 330.9,100.5 L 331.4,112 L 329.3,128 L 327,112 Z" fill="#1f2c5e"/>
<path d="M 318.8,100.9 L 322.3,103.3" stroke="#fff" stroke-width="1.3" stroke-linecap="round"/>
<path d="M 341.8,102 L 336.9,105.8" stroke="#fff" stroke-width="1.3" stroke-linecap="round" stroke-dasharray="2 1.6"/>
<path d="M 289.50,91.00 C 290.42,91.07 293.02,91.35 295.00,91.40 C 296.98,91.45 299.28,91.70 301.40,91.30 C 303.52,90.90 305.77,90.27 307.70,89.00 C 309.63,87.73 311.68,85.63 313.00,83.70 C 314.32,81.77 315.22,79.50 315.60,77.40 C 315.98,75.30 315.92,73.38 315.30,71.10 C 314.68,68.82 313.52,65.82 311.90,63.70 C 310.28,61.58 308.05,59.60 305.60,58.40 C 303.15,57.20 300.37,56.50 297.20,56.50 C 294.03,56.50 290.12,57.12 286.60,58.40 C 283.08,59.68 279.25,61.57 276.10,64.20 C 272.95,66.83 270.07,70.07 267.70,74.20 C 265.33,78.33 263.13,85.30 261.90,89.00 C 260.67,92.70 260.65,93.73 260.30,96.40 C 259.95,99.07 259.80,102.02 259.80,105.00 C 259.80,107.98 259.78,111.17 260.30,114.30 C 260.82,117.43 261.67,120.63 262.90,123.80 C 264.13,126.97 265.68,130.48 267.70,133.30 C 269.72,136.12 272.37,138.68 275.00,140.70 C 277.63,142.72 280.87,144.43 283.50,145.40 C 286.13,146.37 288.35,146.67 290.80,146.50 C 293.25,146.33 296.00,145.72 298.20,144.40 C 300.40,143.08 302.50,140.98 304.00,138.60 C 305.50,136.22 306.75,132.73 307.20,130.10 C 307.65,127.47 307.50,124.90 306.70,122.80 C 305.90,120.70 303.98,118.82 302.40,117.50 C 300.82,116.18 299.30,115.40 297.20,114.90 C 295.10,114.40 291.03,114.57 289.80,114.50 C 290.67,114.35 293.75,114.27 295.00,113.60 C 296.25,112.93 296.83,112.10 297.30,110.50 C 297.77,108.90 297.85,106.00 297.80,104.00 C 297.75,102.00 297.47,100.08 297.00,98.50 C 296.53,96.92 296.25,95.75 295.00,94.50 C 293.75,93.25 290.42,91.58 289.50,91.00 Z" fill="url(#bgs)"/>
<g clip-path="url(#bcl)">
<path d="M 309.30,63.00 C 309.55,64.17 310.68,67.92 310.80,70.00 C 310.92,72.08 310.80,73.83 310.00,75.50 C 309.20,77.17 308.00,78.95 306.00,80.00 C 304.00,81.05 300.67,81.42 298.00,81.80 C 295.33,82.18 292.00,81.77 290.00,82.30 C 288.00,82.83 286.83,83.97 286.00,85.00 C 285.17,86.03 284.92,87.25 285.00,88.50 C 285.08,89.75 285.95,91.17 286.50,92.50 C 287.05,93.83 287.97,95.08 288.30,96.50 C 288.63,97.92 288.88,99.33 288.50,101.00 C 288.12,102.67 286.65,104.67 286.00,106.50 C 285.35,108.33 284.67,110.42 284.60,112.00 C 284.53,113.58 284.73,114.97 285.60,116.00 C 286.47,117.03 288.23,117.80 289.80,118.20 C 291.37,118.60 293.63,117.85 295.00,118.40 C 296.37,118.95 297.45,120.07 298.00,121.50 C 298.55,122.93 298.80,125.42 298.30,127.00 C 297.80,128.58 296.38,129.92 295.00,131.00 C 293.62,132.08 292.00,133.00 290.00,133.50 C 288.00,134.00 285.50,134.20 283.00,134.00 C 280.50,133.80 277.83,133.20 275.00,132.30 C 272.17,131.40 268.83,129.98 266.00,128.60 C 263.17,127.22 259.33,124.77 258.00,124.00 L 250,124 L 250,45 L 309.3,45 Z" fill="#f1f4f9" stroke="url(#bl3)" stroke-width="13"/>
<path d="M 309.30,63.00 C 309.55,64.17 310.68,67.92 310.80,70.00 C 310.92,72.08 310.80,73.83 310.00,75.50 C 309.20,77.17 308.00,78.95 306.00,80.00 C 304.00,81.05 300.67,81.42 298.00,81.80 C 295.33,82.18 292.00,81.77 290.00,82.30 C 288.00,82.83 286.83,83.97 286.00,85.00 C 285.17,86.03 284.92,87.25 285.00,88.50 C 285.08,89.75 285.95,91.17 286.50,92.50 C 287.05,93.83 287.97,95.08 288.30,96.50 C 288.63,97.92 288.88,99.33 288.50,101.00 C 288.12,102.67 286.65,104.67 286.00,106.50 C 285.35,108.33 284.67,110.42 284.60,112.00 C 284.53,113.58 284.73,114.97 285.60,116.00 C 286.47,117.03 288.23,117.80 289.80,118.20 C 291.37,118.60 293.63,117.85 295.00,118.40 C 296.37,118.95 297.45,120.07 298.00,121.50 C 298.55,122.93 298.80,125.42 298.30,127.00 C 297.80,128.58 296.38,129.92 295.00,131.00 C 293.62,132.08 292.00,133.00 290.00,133.50 C 288.00,134.00 285.50,134.20 283.00,134.00 C 280.50,133.80 277.83,133.20 275.00,132.30 C 272.17,131.40 268.83,129.98 266.00,128.60 C 263.17,127.22 259.33,124.77 258.00,124.00 L 250,124 L 250,45 L 309.3,45 Z" fill="#f1f4f9" stroke="url(#bl2)" stroke-width="8.6"/>
<path d="M 309.30,63.00 C 309.55,64.17 310.68,67.92 310.80,70.00 C 310.92,72.08 310.80,73.83 310.00,75.50 C 309.20,77.17 308.00,78.95 306.00,80.00 C 304.00,81.05 300.67,81.42 298.00,81.80 C 295.33,82.18 292.00,81.77 290.00,82.30 C 288.00,82.83 286.83,83.97 286.00,85.00 C 285.17,86.03 284.92,87.25 285.00,88.50 C 285.08,89.75 285.95,91.17 286.50,92.50 C 287.05,93.83 287.97,95.08 288.30,96.50 C 288.63,97.92 288.88,99.33 288.50,101.00 C 288.12,102.67 286.65,104.67 286.00,106.50 C 285.35,108.33 284.67,110.42 284.60,112.00 C 284.53,113.58 284.73,114.97 285.60,116.00 C 286.47,117.03 288.23,117.80 289.80,118.20 C 291.37,118.60 293.63,117.85 295.00,118.40 C 296.37,118.95 297.45,120.07 298.00,121.50 C 298.55,122.93 298.80,125.42 298.30,127.00 C 297.80,128.58 296.38,129.92 295.00,131.00 C 293.62,132.08 292.00,133.00 290.00,133.50 C 288.00,134.00 285.50,134.20 283.00,134.00 C 280.50,133.80 277.83,133.20 275.00,132.30 C 272.17,131.40 268.83,129.98 266.00,128.60 C 263.17,127.22 259.33,124.77 258.00,124.00 L 250,124 L 250,45 L 309.3,45 Z" fill="#f1f4f9" stroke="url(#bl1)" stroke-width="4.6"/>
<path d="M 309.30,63.00 C 309.55,64.17 310.68,67.92 310.80,70.00 C 310.92,72.08 310.80,73.83 310.00,75.50 C 309.20,77.17 308.00,78.95 306.00,80.00 C 304.00,81.05 300.67,81.42 298.00,81.80 C 295.33,82.18 292.00,81.77 290.00,82.30 C 288.00,82.83 286.83,83.97 286.00,85.00 C 285.17,86.03 284.92,87.25 285.00,88.50 C 285.08,89.75 285.95,91.17 286.50,92.50 C 287.05,93.83 287.97,95.08 288.30,96.50 C 288.63,97.92 288.88,99.33 288.50,101.00 C 288.12,102.67 286.65,104.67 286.00,106.50 C 285.35,108.33 284.67,110.42 284.60,112.00 C 284.53,113.58 284.73,114.97 285.60,116.00 C 286.47,117.03 288.23,117.80 289.80,118.20 C 291.37,118.60 293.63,117.85 295.00,118.40 C 296.37,118.95 297.45,120.07 298.00,121.50 C 298.55,122.93 298.80,125.42 298.30,127.00 C 297.80,128.58 296.38,129.92 295.00,131.00 C 293.62,132.08 292.00,133.00 290.00,133.50 C 288.00,134.00 285.50,134.20 283.00,134.00 C 280.50,133.80 277.83,133.20 275.00,132.30 C 272.17,131.40 268.83,129.98 266.00,128.60 C 263.17,127.22 259.33,124.77 258.00,124.00 L 250,124 L 250,45 L 309.3,45 Z" fill="#f1f4f9"/>
<circle cx="274.9" cy="79.7" r="1.2" fill="#5d6992"/><circle cx="279.4" cy="83.4" r="1.2" fill="#5d6992"/><circle cx="267.5" cy="85.3" r="1.2" fill="#5d6992"/><circle cx="273.5" cy="85.3" r="1.2" fill="#5d6992"/><circle cx="278.0" cy="88.9" r="1.2" fill="#5d6992"/><circle cx="265.4" cy="90.8" r="1.2" fill="#5d6992"/><circle cx="270.6" cy="91.3" r="1.2" fill="#5d6992"/><circle cx="280.7" cy="94.0" r="1.2" fill="#5d6992"/><circle cx="274.9" cy="95.0" r="1.2" fill="#5d6992"/><circle cx="263.6" cy="96.1" r="1.2" fill="#5d6992"/><circle cx="269.1" cy="96.9" r="1.2" fill="#5d6992"/><circle cx="283.6" cy="100.3" r="1.2" fill="#5d6992"/><circle cx="278.3" cy="100.6" r="1.2" fill="#5d6992"/><circle cx="265.9" cy="101.9" r="1.2" fill="#5d6992"/><circle cx="271.7" cy="101.9" r="1.2" fill="#5d6992"/><circle cx="280.7" cy="105.6" r="1.2" fill="#5d6992"/><circle cx="275.2" cy="106.7" r="1.2" fill="#5d6992"/><circle cx="263.8" cy="108.2" r="1.2" fill="#5d6992"/><circle cx="269.6" cy="108.2" r="1.2" fill="#5d6992"/><circle cx="277.8" cy="112.1" r="1.2" fill="#5d6992"/><circle cx="271.7" cy="113.0" r="1.2" fill="#5d6992"/><circle cx="265.7" cy="114.2" r="1.2" fill="#5d6992"/><circle cx="280.7" cy="117.2" r="1.2" fill="#5d6992"/><circle cx="275.0" cy="118.4" r="1.2" fill="#5d6992"/><circle cx="268.5" cy="120.2" r="1.2" fill="#5d6992"/><circle cx="268.0" cy="126.1" r="1.2" fill="#5d6992"/><circle cx="272.7" cy="124.5" r="1.2" fill="#5d6992"/><circle cx="279.4" cy="123.1" r="1.2" fill="#5d6992"/><circle cx="285.9" cy="124.0" r="1.2" fill="#5d6992"/><circle cx="292.3" cy="124.0" r="1.2" fill="#5d6992"/><circle cx="277.7" cy="129.8" r="1.2" fill="#5d6992"/><circle cx="283.0" cy="130.3" r="1.2" fill="#5d6992"/><circle cx="288.6" cy="129.0" r="1.2" fill="#5d6992"/>
</g>
<path d="M 289.50,91.00 C 290.42,91.07 293.02,91.35 295.00,91.40 C 296.98,91.45 299.28,91.70 301.40,91.30 C 303.52,90.90 305.77,90.27 307.70,89.00 C 309.63,87.73 311.68,85.63 313.00,83.70 C 314.32,81.77 315.22,79.50 315.60,77.40 C 315.98,75.30 315.92,73.38 315.30,71.10 C 314.68,68.82 313.52,65.82 311.90,63.70 C 310.28,61.58 308.05,59.60 305.60,58.40 C 303.15,57.20 300.37,56.50 297.20,56.50 C 294.03,56.50 290.12,57.12 286.60,58.40 C 283.08,59.68 279.25,61.57 276.10,64.20 C 272.95,66.83 270.07,70.07 267.70,74.20 C 265.33,78.33 263.13,85.30 261.90,89.00 C 260.67,92.70 260.65,93.73 260.30,96.40 C 259.95,99.07 259.80,102.02 259.80,105.00 C 259.80,107.98 259.78,111.17 260.30,114.30 C 260.82,117.43 261.67,120.63 262.90,123.80 C 264.13,126.97 265.68,130.48 267.70,133.30 C 269.72,136.12 272.37,138.68 275.00,140.70 C 277.63,142.72 280.87,144.43 283.50,145.40 C 286.13,146.37 288.35,146.67 290.80,146.50 C 293.25,146.33 296.00,145.72 298.20,144.40 C 300.40,143.08 302.50,140.98 304.00,138.60 C 305.50,136.22 306.75,132.73 307.20,130.10 C 307.65,127.47 307.50,124.90 306.70,122.80 C 305.90,120.70 303.98,118.82 302.40,117.50 C 300.82,116.18 299.30,115.40 297.20,114.90 C 295.10,114.40 291.03,114.57 289.80,114.50 C 290.67,114.35 293.75,114.27 295.00,113.60 C 296.25,112.93 296.83,112.10 297.30,110.50 C 297.77,108.90 297.85,106.00 297.80,104.00 C 297.75,102.00 297.47,100.08 297.00,98.50 C 296.53,96.92 296.25,95.75 295.00,94.50 C 293.75,93.25 290.42,91.58 289.50,91.00 Z" fill="none" stroke="#1f2c5e" stroke-width="2.3" stroke-linejoin="round"/>
<path d="M 368.50,91.00 C 367.58,91.07 364.98,91.35 363.00,91.40 C 361.02,91.45 358.72,91.70 356.60,91.30 C 354.48,90.90 352.23,90.27 350.30,89.00 C 348.37,87.73 346.32,85.63 345.00,83.70 C 343.68,81.77 342.78,79.50 342.40,77.40 C 342.02,75.30 342.08,73.38 342.70,71.10 C 343.32,68.82 344.48,65.82 346.10,63.70 C 347.72,61.58 349.95,59.60 352.40,58.40 C 354.85,57.20 357.63,56.50 360.80,56.50 C 363.97,56.50 367.88,57.12 371.40,58.40 C 374.92,59.68 378.75,61.57 381.90,64.20 C 385.05,66.83 387.93,70.07 390.30,74.20 C 392.67,78.33 394.87,85.30 396.10,89.00 C 397.33,92.70 397.35,93.73 397.70,96.40 C 398.05,99.07 398.20,102.02 398.20,105.00 C 398.20,107.98 398.22,111.17 397.70,114.30 C 397.18,117.43 396.33,120.63 395.10,123.80 C 393.87,126.97 392.32,130.48 390.30,133.30 C 388.28,136.12 385.63,138.68 383.00,140.70 C 380.37,142.72 377.13,144.43 374.50,145.40 C 371.87,146.37 369.65,146.67 367.20,146.50 C 364.75,146.33 362.00,145.72 359.80,144.40 C 357.60,143.08 355.50,140.98 354.00,138.60 C 352.50,136.22 351.25,132.73 350.80,130.10 C 350.35,127.47 350.50,124.90 351.30,122.80 C 352.10,120.70 354.02,118.82 355.60,117.50 C 357.18,116.18 358.70,115.40 360.80,114.90 C 362.90,114.40 366.97,114.57 368.20,114.50 C 367.33,114.35 364.25,114.27 363.00,113.60 C 361.75,112.93 361.17,112.10 360.70,110.50 C 360.23,108.90 360.15,106.00 360.20,104.00 C 360.25,102.00 360.53,100.08 361.00,98.50 C 361.47,96.92 361.75,95.75 363.00,94.50 C 364.25,93.25 367.58,91.58 368.50,91.00 Z" fill="url(#bgs)"/>
<g clip-path="url(#bcr)">
<path d="M 383.20,64.00 C 383.08,64.92 382.78,67.43 382.50,69.50 C 382.22,71.57 381.75,74.03 381.50,76.40 C 381.25,78.77 380.83,81.07 381.00,83.70 C 381.17,86.33 381.88,89.65 382.50,92.20 C 383.12,94.75 384.03,96.53 384.70,99.00 C 385.37,101.47 386.15,104.50 386.50,107.00 C 386.85,109.50 387.10,111.25 386.80,114.00 C 386.50,116.75 386.12,120.52 384.70,123.50 C 383.28,126.48 380.77,129.80 378.30,131.90 C 375.83,134.00 372.88,135.48 369.90,136.10 C 366.92,136.72 363.22,136.65 360.40,135.60 C 357.58,134.55 355.07,131.73 353.00,129.80 C 350.93,127.87 348.83,124.97 348.00,124.00 L 338,124 L 338,45 L 383.2,45 Z" fill="#f1f4f9" stroke="url(#br3)" stroke-width="15"/>
<path d="M 383.20,64.00 C 383.08,64.92 382.78,67.43 382.50,69.50 C 382.22,71.57 381.75,74.03 381.50,76.40 C 381.25,78.77 380.83,81.07 381.00,83.70 C 381.17,86.33 381.88,89.65 382.50,92.20 C 383.12,94.75 384.03,96.53 384.70,99.00 C 385.37,101.47 386.15,104.50 386.50,107.00 C 386.85,109.50 387.10,111.25 386.80,114.00 C 386.50,116.75 386.12,120.52 384.70,123.50 C 383.28,126.48 380.77,129.80 378.30,131.90 C 375.83,134.00 372.88,135.48 369.90,136.10 C 366.92,136.72 363.22,136.65 360.40,135.60 C 357.58,134.55 355.07,131.73 353.00,129.80 C 350.93,127.87 348.83,124.97 348.00,124.00 L 338,124 L 338,45 L 383.2,45 Z" fill="#f1f4f9" stroke="url(#br2)" stroke-width="9.5"/>
<path d="M 383.20,64.00 C 383.08,64.92 382.78,67.43 382.50,69.50 C 382.22,71.57 381.75,74.03 381.50,76.40 C 381.25,78.77 380.83,81.07 381.00,83.70 C 381.17,86.33 381.88,89.65 382.50,92.20 C 383.12,94.75 384.03,96.53 384.70,99.00 C 385.37,101.47 386.15,104.50 386.50,107.00 C 386.85,109.50 387.10,111.25 386.80,114.00 C 386.50,116.75 386.12,120.52 384.70,123.50 C 383.28,126.48 380.77,129.80 378.30,131.90 C 375.83,134.00 372.88,135.48 369.90,136.10 C 366.92,136.72 363.22,136.65 360.40,135.60 C 357.58,134.55 355.07,131.73 353.00,129.80 C 350.93,127.87 348.83,124.97 348.00,124.00 L 338,124 L 338,45 L 383.2,45 Z" fill="#f1f4f9" stroke="url(#br1)" stroke-width="4.6"/>
<path d="M 383.20,64.00 C 383.08,64.92 382.78,67.43 382.50,69.50 C 382.22,71.57 381.75,74.03 381.50,76.40 C 381.25,78.77 380.83,81.07 381.00,83.70 C 381.17,86.33 381.88,89.65 382.50,92.20 C 383.12,94.75 384.03,96.53 384.70,99.00 C 385.37,101.47 386.15,104.50 386.50,107.00 C 386.85,109.50 387.10,111.25 386.80,114.00 C 386.50,116.75 386.12,120.52 384.70,123.50 C 383.28,126.48 380.77,129.80 378.30,131.90 C 375.83,134.00 372.88,135.48 369.90,136.10 C 366.92,136.72 363.22,136.65 360.40,135.60 C 357.58,134.55 355.07,131.73 353.00,129.80 C 350.93,127.87 348.83,124.97 348.00,124.00 L 338,124 L 338,45 L 383.2,45 Z" fill="#f1f4f9"/>
<path d="M 341,76 L 346.3,83 C 353.5,86 364,86.8 369.5,85.6 C 371.5,85.4 372.5,86.5 373,88 L 373,91.6 L 341,91.6 Z" fill="#2a3767"/>
<path d="M 346.3,83 C 353.5,86 364,86.8 369.5,85.6" fill="none" stroke="#a9b3cf" stroke-width="1.4"/>
<circle cx="371.6" cy="81.8" r="1.2" fill="#5d6992"/><circle cx="379.0" cy="80.0" r="1.2" fill="#5d6992"/><circle cx="376.4" cy="85.3" r="1.2" fill="#5d6992"/><circle cx="373.7" cy="90.6" r="1.2" fill="#5d6992"/><circle cx="379.0" cy="91.1" r="1.2" fill="#5d6992"/><circle cx="367.4" cy="97.4" r="1.2" fill="#5d6992"/><circle cx="372.1" cy="96.9" r="1.2" fill="#5d6992"/><circle cx="377.4" cy="96.9" r="1.2" fill="#5d6992"/><circle cx="382.2" cy="96.9" r="1.2" fill="#5d6992"/><circle cx="364.8" cy="103.2" r="1.2" fill="#5d6992"/><circle cx="370.1" cy="103.2" r="1.2" fill="#5d6992"/><circle cx="375.4" cy="102.2" r="1.2" fill="#5d6992"/><circle cx="380.7" cy="102.0" r="1.2" fill="#5d6992"/><circle cx="370.6" cy="109.0" r="1.2" fill="#5d6992"/><circle cx="376.4" cy="108.1" r="1.2" fill="#5d6992"/><circle cx="381.6" cy="107.7" r="1.2" fill="#5d6992"/><circle cx="374.3" cy="113.7" r="1.2" fill="#5d6992"/><circle cx="381.1" cy="112.9" r="1.2" fill="#5d6992"/><circle cx="360.3" cy="118.1" r="1.2" fill="#5d6992"/><circle cx="367.4" cy="120.0" r="1.2" fill="#5d6992"/><circle cx="372.4" cy="119.0" r="1.2" fill="#5d6992"/><circle cx="378.5" cy="118.8" r="1.2" fill="#5d6992"/><circle cx="355.3" cy="124.8" r="1.2" fill="#5d6992"/><circle cx="370.6" cy="124.0" r="1.2" fill="#5d6992"/><circle cx="376.4" cy="123.2" r="1.2" fill="#5d6992"/><circle cx="359.7" cy="127.2" r="1.2" fill="#5d6992"/><circle cx="365.6" cy="126.9" r="1.2" fill="#5d6992"/><circle cx="370.0" cy="128.7" r="1.2" fill="#5d6992"/><circle cx="355.8" cy="130.0" r="1.2" fill="#5d6992"/><circle cx="363.2" cy="131.1" r="1.2" fill="#5d6992"/>
</g>
<path d="M 368.50,91.00 C 367.58,91.07 364.98,91.35 363.00,91.40 C 361.02,91.45 358.72,91.70 356.60,91.30 C 354.48,90.90 352.23,90.27 350.30,89.00 C 348.37,87.73 346.32,85.63 345.00,83.70 C 343.68,81.77 342.78,79.50 342.40,77.40 C 342.02,75.30 342.08,73.38 342.70,71.10 C 343.32,68.82 344.48,65.82 346.10,63.70 C 347.72,61.58 349.95,59.60 352.40,58.40 C 354.85,57.20 357.63,56.50 360.80,56.50 C 363.97,56.50 367.88,57.12 371.40,58.40 C 374.92,59.68 378.75,61.57 381.90,64.20 C 385.05,66.83 387.93,70.07 390.30,74.20 C 392.67,78.33 394.87,85.30 396.10,89.00 C 397.33,92.70 397.35,93.73 397.70,96.40 C 398.05,99.07 398.20,102.02 398.20,105.00 C 398.20,107.98 398.22,111.17 397.70,114.30 C 397.18,117.43 396.33,120.63 395.10,123.80 C 393.87,126.97 392.32,130.48 390.30,133.30 C 388.28,136.12 385.63,138.68 383.00,140.70 C 380.37,142.72 377.13,144.43 374.50,145.40 C 371.87,146.37 369.65,146.67 367.20,146.50 C 364.75,146.33 362.00,145.72 359.80,144.40 C 357.60,143.08 355.50,140.98 354.00,138.60 C 352.50,136.22 351.25,132.73 350.80,130.10 C 350.35,127.47 350.50,124.90 351.30,122.80 C 352.10,120.70 354.02,118.82 355.60,117.50 C 357.18,116.18 358.70,115.40 360.80,114.90 C 362.90,114.40 366.97,114.57 368.20,114.50 C 367.33,114.35 364.25,114.27 363.00,113.60 C 361.75,112.93 361.17,112.10 360.70,110.50 C 360.23,108.90 360.15,106.00 360.20,104.00 C 360.25,102.00 360.53,100.08 361.00,98.50 C 361.47,96.92 361.75,95.75 363.00,94.50 C 364.25,93.25 367.58,91.58 368.50,91.00 Z" fill="none" stroke="#1f2c5e" stroke-width="2.3" stroke-linejoin="round"/>
<path d="M 290.50,114.60 C 291.32,114.47 294.25,114.48 295.40,113.80 C 296.55,113.12 296.98,112.13 297.40,110.50 C 297.82,108.87 297.93,106.00 297.90,104.00 C 297.87,102.00 297.58,100.00 297.20,98.50 C 296.82,97.00 295.87,95.58 295.60,95.00" fill="none" stroke="#1f2c5e" stroke-width="3.4" stroke-linecap="round"/>
<path d="M 367.50,114.60 C 366.68,114.47 363.75,114.48 362.60,113.80 C 361.45,113.12 361.02,112.13 360.60,110.50 C 360.18,108.87 360.07,106.00 360.10,104.00 C 360.13,102.00 360.42,100.00 360.80,98.50 C 361.18,97.00 362.13,95.58 362.40,95.00" fill="none" stroke="#1f2c5e" stroke-width="3.4" stroke-linecap="round"/>
<path d="M 288.9,113.4 C 291.5,111.8 294.5,111.6 297.4,110 L 298,115.4 C 295,115.2 292,115.6 288.9,115.6 Z" fill="#1f2c5e" stroke="#1f2c5e" stroke-width="1" stroke-linejoin="round"/>
<path d="M 369.10,113.4 C 366.50,111.8 363.50,111.6 360.60,110 L 360.00,115.4 C 363.00,115.2 366.00,115.6 369.10,115.6 Z" fill="#1f2c5e" stroke="#1f2c5e" stroke-width="1" stroke-linejoin="round"/>
<path d="M 288.7,90.3 C 291,91 294,91.2 297.5,91 L 299,95.5 C 295,95.6 291.5,94.4 288.7,92.2 Z" fill="#1f2c5e" stroke="#1f2c5e" stroke-width="1" stroke-linejoin="round"/>
<path d="M 369.30,90.3 C 367.00,91 364.00,91.2 360.50,91 L 359.00,95.5 C 363.00,95.6 366.50,94.4 369.30,92.2 Z" fill="#1f2c5e" stroke="#1f2c5e" stroke-width="1" stroke-linejoin="round"/>
<path d="M 281.2,72 C 283.6,69.4 286.6,67.6 290.2,66.9" fill="none" stroke="#d3dcec" stroke-width="3.3" stroke-linecap="round"/>
<circle cx="296.3" cy="65.6" r="2.2" fill="#d3dcec"/>
<path d="M 353.4,69.9 C 355.6,67.6 358.6,66 362.2,65.4" fill="none" stroke="#d3dcec" stroke-width="3.5" stroke-linecap="round"/>
<circle cx="362.3" cy="122.4" r="2.4" fill="#d3dcec"/>
</g>
</svg>
<div class="vline"></div>
<div class="hl" style="left:505.9px;width:80.4px;top:308.10px;background:#7c88ab"></div>
<div class="hl" style="left:472px;width:149.0px;top:355px;height:1px;background:#2a3764"></div>
<div class="hl" style="left:493.6px;width:98.4px;top:401.10px;background:#7c88ab"></div>
<svg class="art" width="1080" height="465" viewBox="0 0 1080 465">
<circle cx="543.1" cy="308.9" r="17.4" fill="#fff" stroke="#5a668c" stroke-width="1.4"/>
<circle cx="543.1" cy="355.4" r="17.4" fill="#fff" stroke="#5a668c" stroke-width="1.4"/>
<circle cx="543.1" cy="401.9" r="17.4" fill="#fff" stroke="#5a668c" stroke-width="1.4"/>
</svg>
<div class="vs" style="top:290.80px">vs</div>
<span class="t b" id="r0a" style="left:167.50px;top:308.9px;letter-spacing:-0.013px">3.3 visits</span>
<span class="t" id="r0b" style="left:234.00px;top:308.9px;letter-spacing:0.44px">to the emergency department PPPY</span>
<span class="t b" id="r0c" style="left:603.50px;top:308.9px;letter-spacing:-0.293px">5.1 visits</span>
<span class="t" id="r0d" style="left:667.00px;top:308.9px;letter-spacing:0.46px">to the emergency department PPPY</span>
<div class="vs" style="top:337.30px">vs</div>
<span class="t b" id="r1a" style="left:201.25px;top:355.6px;letter-spacing:0.277px">0.5 admissions</span>
<span class="t" id="r1b" style="left:315.75px;top:355.6px;letter-spacing:0.039px">to the hospital PPPY</span>
<span class="t b" id="r1c" style="left:637.75px;top:355.6px;letter-spacing:-0.087px">1.2 admissions</span>
<span class="t" id="r1d" style="left:747.75px;top:355.6px;letter-spacing:0.039px">to the hospital PPPY</span>
<div class="vs" style="top:383.80px">vs</div>
<span class="t b" id="r2a" style="left:180.00px;top:402.3px;letter-spacing:-0.093px">$71,880</span>
<span class="t" id="r2b" style="left:236.50px;top:402.3px;letter-spacing:0.39px">mean total healthcare costs PPPY</span>
<span class="t b" id="r2c" style="left:609.00px;top:402.3px;letter-spacing:0.17px">$106,634</span>
<span class="t" id="r2d" style="left:676.00px;top:402.3px;letter-spacing:0.39px">mean total healthcare costs PPPY</span>
<div class="h" style="left:183.2px"><span id="h1" style="letter-spacing:0.326px">MM patients without CKD</span></div><sup class="sp" id="s1" style="left:461.6px">18</sup>
<div class="h" style="left:634.9px"><span id="h2" style="letter-spacing:0.277px">MM patients with CKD</span></div><sup class="sp" id="s2" style="left:876.6px">18</sup>
</body></html>
